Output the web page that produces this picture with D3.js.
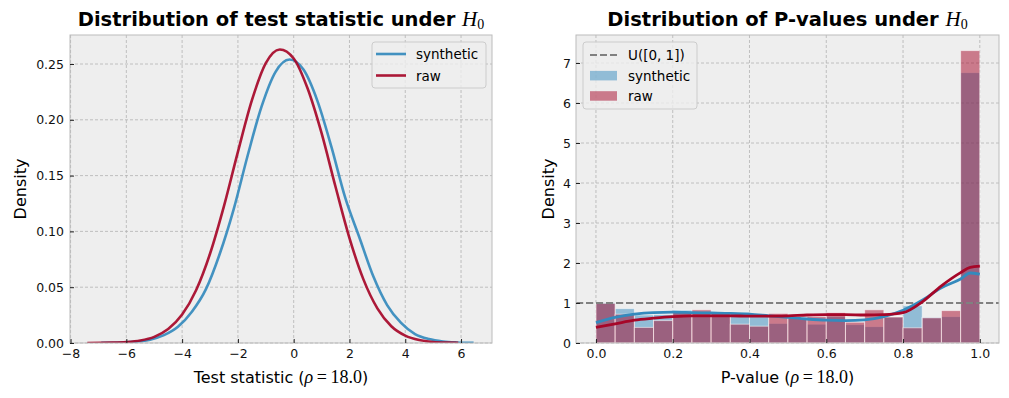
<!DOCTYPE html>
<html>
<head>
<meta charset="utf-8">
<script src="https://cdn.jsdelivr.net/npm/d3@7"></script>
<style>
  body { margin: 0; background: #fff; }
  svg { display: block; font-family: "DejaVu Sans", sans-serif; }
</style>
</head>
<body>
<svg id="chart" width="1009" height="398"></svg>
<script>
// ---- data ----
// left panel: KDE of the test statistic
const synthX = [-6.9, -6.15, -5.65, -5.15, -4.65, -4.15, -3.65, -3.15, -2.65, -2.15, -1.65, -1.15, -0.65, -0.15,
  0.35, 0.85, 1.35, 1.85, 2.35, 2.85, 3.35, 3.85, 4.35, 4.85, 5.35, 5.85, 6.45];
const synthDensity = [0.0001, 0.0004, 0.0012, 0.003, 0.007, 0.0145, 0.028, 0.048, 0.08, 0.12, 0.168, 0.212, 0.243, 0.254,
  0.245, 0.217, 0.176, 0.13, 0.095, 0.06, 0.034, 0.018, 0.008, 0.0035, 0.0014, 0.0005, 0.0001];
const rawX = [-7.4, -6.5, -6.0, -5.5, -5.0, -4.5, -4.0, -3.5, -3.0, -2.5, -2.0, -1.5, -1.0, -0.5,
  0.0, 0.5, 1.0, 1.5, 2.0, 2.5, 3.0, 3.5, 4.0, 4.5, 5.0, 5.5, 5.9];
const rawDensity = [0.00003, 0.0003, 0.0008, 0.0022, 0.0055, 0.0125, 0.0255, 0.0473, 0.08, 0.1227, 0.1713, 0.2174, 0.2508, 0.263,
  0.255, 0.228, 0.188, 0.14, 0.094, 0.057, 0.031, 0.015, 0.0066, 0.0026, 0.0009, 0.0003, 0.0001];

// right panel: p-value histograms (density) + KDE
const binEdges = [0, 0.05, 0.1, 0.15, 0.2, 0.25, 0.3, 0.35, 0.4, 0.45, 0.5,
  0.55, 0.6, 0.65, 0.7, 0.75, 0.8, 0.85, 0.9, 0.95, 1.0];
const histSynthetic = [1.01, 0.86, 0.70, 0.71, 0.82, 0.79, 0.77, 0.77, 0.72, 0.49,
  0.64, 0.47, 0.66, 0.46, 0.41, 0.65, 0.93, 0.64, 0.66, 6.76];
const histRaw = [0.99, 0.72, 0.39, 0.56, 0.78, 0.83, 0.76, 0.47, 0.42, 0.74,
  0.62, 0.66, 0.76, 0.52, 0.83, 0.65, 0.38, 0.63, 0.81, 7.31];
const kdeP = [0, 0.05, 0.1, 0.15, 0.2, 0.25, 0.3, 0.35, 0.4, 0.45, 0.5, 0.55, 0.6, 0.65, 0.7, 0.75, 0.8, 0.85, 0.9, 0.95, 0.975, 1.0];
const kdeSynthetic = [0.51, 0.64, 0.72, 0.76, 0.77, 0.76, 0.75, 0.74, 0.72, 0.68, 0.64, 0.60, 0.57, 0.56, 0.58, 0.66, 0.82, 1.07, 1.38, 1.60, 1.75, 1.72];
const kdeRaw = [0.39, 0.48, 0.57, 0.62, 0.66, 0.68, 0.68, 0.68, 0.67, 0.67, 0.68, 0.70, 0.71, 0.71, 0.70, 0.71, 0.76, 1.03, 1.43, 1.76, 1.89, 1.92];
const uniformLevel = 1;

const leftXTicks = [-8, -6, -4, -2, 0, 2, 4, 6];
const leftYTicks = [0, 0.05, 0.1, 0.15, 0.2, 0.25];
const rightXTicks = [0, 0.2, 0.4, 0.6, 0.8, 1.0];
const rightYTicks = [0, 1, 2, 3, 4, 5, 6, 7];

const seriesNames = ["synthetic", "raw"];
const colors = { synthetic: "#348ABD", raw: "#A60628" };

// ---- layout ----
const plotTop = 35, plotBottom = 343;
const leftBox = { x0: 70, x1: 492 };
const rightBox = { x0: 576, x1: 999 };

const svg = d3.select("#chart");

const xL = d3.scaleLinear().domain([-8.02, 7.11]).range([leftBox.x0, leftBox.x1]);
const yL = d3.scaleLinear().domain([0, 0.276]).range([plotBottom, plotTop]);
const xR = d3.scaleLinear().domain([-0.052, 1.05]).range([rightBox.x0, rightBox.x1]);
const yR = d3.scaleLinear().domain([0, 7.7]).range([plotBottom, plotTop]);

function drawFrame(box, x, y, xTicks, yTicks, xFmt, yFmt, clipId) {
  const g = svg.append("g");
  g.append("rect")
    .attr("x", box.x0).attr("y", plotTop)
    .attr("width", box.x1 - box.x0).attr("height", plotBottom - plotTop)
    .attr("fill", "#eeeeee");

  svg.append("clipPath").attr("id", clipId)
    .append("rect")
    .attr("x", box.x0).attr("y", plotTop)
    .attr("width", box.x1 - box.x0).attr("height", plotBottom - plotTop);

  // grid
  g.selectAll(".vgrid").data(xTicks).join("line")
    .attr("x1", d => x(d)).attr("x2", d => x(d))
    .attr("y1", plotTop).attr("y2", plotBottom)
    .attr("stroke", "#b2b2b2").attr("stroke-width", 0.8).attr("stroke-dasharray", "3,2");
  g.selectAll(".hgrid").data(yTicks).join("line")
    .attr("x1", box.x0).attr("x2", box.x1)
    .attr("y1", d => y(d)).attr("y2", d => y(d))
    .attr("stroke", "#b2b2b2").attr("stroke-width", 0.8).attr("stroke-dasharray", "3,2");
  return g;
}

function drawAxes(box, x, y, xTicks, yTicks, xFmt, yFmt, yPad) {
  // spines
  svg.append("rect")
    .attr("x", box.x0).attr("y", plotTop)
    .attr("width", box.x1 - box.x0).attr("height", plotBottom - plotTop)
    .attr("fill", "none").attr("stroke", "#bcbcbc").attr("stroke-width", 1);

  const xa = svg.append("g")
    .attr("transform", `translate(0,${plotBottom})`)
    .call(d3.axisBottom(x).tickValues(xTicks).tickFormat(xFmt)
      .tickSizeInner(-4).tickSizeOuter(0).tickPadding(6));
  const ya = svg.append("g")
    .attr("transform", `translate(${box.x0},0)`)
    .call(d3.axisLeft(y).tickValues(yTicks).tickFormat(yFmt)
      .tickSizeInner(-4).tickSizeOuter(0).tickPadding(yPad));
  [xa, ya].forEach(a => {
    a.select(".domain").remove();
    a.selectAll(".tick line").attr("stroke", "#222").attr("stroke-width", 1);
    a.selectAll(".tick text")
      .attr("fill", "#111")
      .style("font-family", "'DejaVu Sans', sans-serif")
      .style("font-size", "12.5px");
  });
}

function title(cx, label) {
  const t = svg.append("text")
    .attr("x", cx).attr("y", 26)
    .attr("text-anchor", "middle")
    .style("font-size", "19.5px").style("font-weight", "bold").attr("fill", "#000");
  t.append("tspan").text(label + " ");
  t.append("tspan").text("H")
    .style("font-family", "'Liberation Serif', serif").style("font-style", "italic")
    .style("font-weight", "normal").style("font-size", "21px");
  t.append("tspan").text("0")
    .style("font-family", "'Liberation Serif', serif")
    .style("font-weight", "normal").style("font-size", "14px").attr("dy", 3);
}

function xLabel(cx, label) {
  const t = svg.append("text")
    .attr("x", cx).attr("y", 383)
    .attr("text-anchor", "middle")
    .style("font-size", "16px").attr("fill", "#000");
  t.append("tspan").text(label + " (");
  t.append("tspan").text("ρ")
    .style("font-family", "'Liberation Serif', serif").style("font-style", "italic").style("font-size", "18px");
  t.append("tspan").text("\u2009=\u200918.0")
    .style("font-family", "'Liberation Serif', serif").style("font-size", "18px");
  t.append("tspan").text(")");
}

function yLabel(cx) {
  svg.append("text")
    .attr("transform", `translate(${cx},${(plotTop + plotBottom) / 2}) rotate(-90)`)
    .attr("text-anchor", "middle")
    .attr("dominant-baseline", "central")
    .style("font-size", "16px").attr("fill", "#000")
    .text("Density");
}

// ---- left panel ----
const gL = drawFrame(leftBox, xL, yL, leftXTicks, leftYTicks, null, null, "clipL");
const line = (xs, x, y) => d3.line()
  .x((d, i) => x(xs[i])).y(d => y(d))
  .curve(d3.curveMonotoneX);

const leftSeries = [
  { name: "synthetic", xs: synthX, ys: synthDensity },
  { name: "raw", xs: rawX, ys: rawDensity },
];
gL.append("g").attr("clip-path", "url(#clipL)")
  .selectAll("path").data(leftSeries).join("path")
  .attr("d", d => line(d.xs, xL, yL)(d.ys))
  .attr("fill", "none")
  .attr("stroke", d => colors[d.name])
  .attr("stroke-width", 2.6)
  .attr("opacity", 0.92);

drawAxes(leftBox, xL, yL, leftXTicks, leftYTicks, d3.format("d"), d3.format(".2f"), 6);
title((leftBox.x0 + leftBox.x1) / 2, "Distribution of test statistic under");
xLabel((leftBox.x0 + leftBox.x1) / 2, "Test statistic");
yLabel(20);

// left legend
const legL = svg.append("g").attr("transform", "translate(372,42)");
legL.append("rect").attr("width", 114).attr("height", 46).attr("rx", 3)
  .attr("fill", "#eeeeee").attr("fill-opacity", 0.8).attr("stroke", "#cccccc");
seriesNames.forEach((n, i) => {
  const yy = 12 + i * 21.5;
  legL.append("line").attr("x1", 4).attr("x2", 34).attr("y1", yy).attr("y2", yy)
    .attr("stroke", colors[n]).attr("stroke-width", 2.6).attr("opacity", 0.92);
  legL.append("text").attr("x", 44).attr("y", yy).attr("dominant-baseline", "central")
    .style("font-size", "13.5px").attr("fill", "#000").text(n);
});

// ---- right panel ----
const gR = drawFrame(rightBox, xR, yR, rightXTicks, rightYTicks, null, null, "clipR");
const histSeries = [
  { name: "synthetic", values: histSynthetic },
  { name: "raw", values: histRaw },
];
const plotR = gR.append("g").attr("clip-path", "url(#clipR)");
histSeries.forEach(s => {
  plotR.append("g").selectAll("rect").data(s.values).join("rect")
    .attr("x", (d, i) => xR(binEdges[i]))
    .attr("width", (d, i) => xR(binEdges[i + 1]) - xR(binEdges[i]))
    .attr("y", d => yR(d))
    .attr("height", d => yR(0) - yR(d))
    .attr("fill", colors[s.name]).attr("fill-opacity", 0.5)
    .attr("stroke", "#ffffff").attr("stroke-opacity", 0.55).attr("stroke-width", 1);
});

plotR.append("line")
  .attr("x1", rightBox.x0).attr("x2", rightBox.x1)
  .attr("y1", yR(uniformLevel)).attr("y2", yR(uniformLevel))
  .attr("stroke", "#808080").attr("stroke-width", 2.2).attr("stroke-dasharray", "7,3");

const kdeSeries = [
  { name: "synthetic", ys: kdeSynthetic },
  { name: "raw", ys: kdeRaw },
];
plotR.selectAll(".kde").data(kdeSeries).join("path")
  .attr("class", "kde")
  .attr("d", d => line(kdeP, xR, yR)(d.ys))
  .attr("fill", "none")
  .attr("stroke", d => colors[d.name])
  .attr("stroke-width", 2.8);

drawAxes(rightBox, xR, yR, rightXTicks, rightYTicks, d3.format(".1f"), d3.format("d"), 5);
title((rightBox.x0 + rightBox.x1) / 2, "Distribution of P-values under");
xLabel((rightBox.x0 + rightBox.x1) / 2, "P-value");
yLabel(548);

// right legend
const legR = svg.append("g").attr("transform", "translate(583,42)");
legR.append("rect").attr("width", 114).attr("height", 67).attr("rx", 3)
  .attr("fill", "#eeeeee").attr("fill-opacity", 0.8).attr("stroke", "#cccccc");
legR.append("line").attr("x1", 7).attr("x2", 34).attr("y1", 13).attr("y2", 13)
  .attr("stroke", "#808080").attr("stroke-width", 2.2).attr("stroke-dasharray", "7,3");
legR.append("text").attr("x", 45).attr("y", 13).attr("dominant-baseline", "central")
  .style("font-size", "13.5px").attr("fill", "#000").text("U([0, 1])");
seriesNames.forEach((n, i) => {
  const yy = 33.7 + i * 20.3;
  legR.append("rect").attr("x", 7).attr("y", yy - 4.8).attr("width", 27).attr("height", 9.5)
    .attr("fill", colors[n]).attr("fill-opacity", 0.5);
  legR.append("text").attr("x", 45).attr("y", yy).attr("dominant-baseline", "central")
    .style("font-size", "13.5px").attr("fill", "#000").text(n);
});
</script>
</body>
</html>
